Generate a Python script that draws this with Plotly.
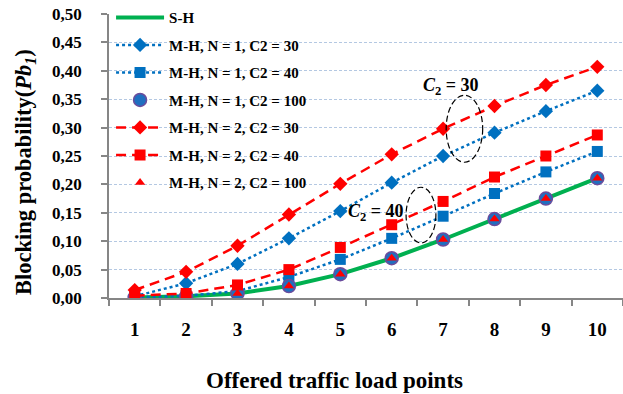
import plotly.graph_objects as go

loads = [1, 2, 3, 4, 5, 6, 7, 8, 9, 10]
tick_labels = ["1", "2", "3", "4", "5", "6", "7", "8", "9", "10"]

sh = [0.001, 0.003, 0.008, 0.021, 0.042, 0.070, 0.103, 0.139, 0.175, 0.211]
n1_c30 = [0.003, 0.026, 0.060, 0.105, 0.153, 0.203, 0.250, 0.291, 0.329, 0.365]
n1_c40 = [0.001, 0.004, 0.012, 0.037, 0.068, 0.105, 0.144, 0.184, 0.222, 0.258]
n1_c100 = [0.001, 0.003, 0.008, 0.021, 0.042, 0.070, 0.103, 0.139, 0.175, 0.211]
n2_c30 = [0.014, 0.046, 0.092, 0.147, 0.201, 0.253, 0.298, 0.338, 0.375, 0.407]
n2_c40 = [0.004, 0.008, 0.023, 0.050, 0.089, 0.129, 0.170, 0.213, 0.250, 0.287]
n2_c100 = [0.001, 0.003, 0.008, 0.021, 0.042, 0.070, 0.103, 0.139, 0.175, 0.211]

names = ["S-H", "M-H, N = 1, C2 = 30", "M-H, N = 1, C2 = 40", "M-H, N = 1, C2 = 100",
         "M-H, N = 2, C2 = 30", "M-H, N = 2, C2 = 40", "M-H, N = 2, C2 = 100"]

GREEN = "#00b050"
BLUE = "#0070c0"
RED = "#ff0000"
SERIF = "Liberation Serif, Times New Roman, serif"

fig = go.Figure()
fig.add_trace(go.Scatter(x=loads, y=sh, name=names[0], mode="lines",
                         line=dict(color=GREEN, width=4), legendgroup="a"))
fig.add_trace(go.Scatter(x=loads, y=n1_c30, name=names[1], mode="lines+markers",
                         line=dict(color=BLUE, width=2.5, dash="dot"),
                         marker=dict(symbol="diamond", size=11, color=BLUE), legendgroup="b"))
fig.add_trace(go.Scatter(x=loads, y=n1_c40, name=names[2], mode="lines+markers",
                         line=dict(color=BLUE, width=2.5, dash="dot"),
                         marker=dict(symbol="square", size=11, color=BLUE), legendgroup="c"))
fig.add_trace(go.Scatter(x=loads, y=n1_c100, name=names[3], mode="markers",
                         marker=dict(symbol="circle", size=13, color="#1f6fc0",
                                     line=dict(color="#6a4c9c", width=1.5)), legendgroup="d"))
fig.add_trace(go.Scatter(x=loads, y=n2_c30, name=names[4], mode="lines+markers",
                         line=dict(color=RED, width=2.5, dash="10px,6px"),
                         marker=dict(symbol="diamond", size=11, color=RED), legendgroup="e"))
fig.add_trace(go.Scatter(x=loads, y=n2_c40, name=names[5], mode="lines+markers",
                         line=dict(color=RED, width=2.5, dash="10px,6px"),
                         marker=dict(symbol="square", size=11, color=RED), legendgroup="f"))
fig.add_trace(go.Scatter(x=loads, y=n2_c100, name=names[6], mode="markers",
                         marker=dict(symbol="triangle-up", size=9, color=RED), legendgroup="g"))

axis_grey = "#868686"
fig.update_layout(
    width=623, height=394,
    margin=dict(l=109, r=0, t=14, b=96, autoexpand=False),
    paper_bgcolor="white", plot_bgcolor="white",
    separators=",.",
    font=dict(family=SERIF, color="black"),
    showlegend=True,
    legend=dict(x=0.004, y=1.045, xanchor="left", yanchor="top",
                bgcolor="rgba(0,0,0,0)", traceorder="grouped", tracegroupgap=5.0,
                itemwidth=48,
                font=dict(family=SERIF, size=15, color="black", weight="bold")),
    xaxis=dict(range=[0.5, 10.5], tickmode="array", tickvals=loads, ticktext=tick_labels,
               ticks="", showgrid=False, zeroline=False,
               showline=True, linecolor=axis_grey, linewidth=1.5,
               tickfont=dict(family=SERIF, size=19, color="black", weight="bold"),
               ticklabelstandoff=13,
               minor=dict(tickmode="array", tickvals=[i + 0.5 for i in range(0, 11)],
                          ticks="outside", ticklen=6, tickcolor=axis_grey, tickwidth=1.5,
                          showgrid=False)),
    yaxis=dict(range=[0, 0.5], tickmode="linear", tick0=0, dtick=0.05, tickformat=".2f",
               ticks="outside", ticklen=6, tickcolor=axis_grey, tickwidth=1.5,
               showline=True, linecolor=axis_grey, linewidth=1.5, zeroline=False,
               showgrid=True, gridcolor="#b4c8e2", gridwidth=1, griddash="3px,2px",
               tickfont=dict(family=SERIF, size=17, color="black", weight="bold"),
               ticklabelstandoff=16),
)
try:
    fig.update_layout(legend_maxheight=400)
except Exception:
    pass

# axis titles
fig.add_annotation(xref="paper", yref="paper", x=(334 - 109) / 514, y=-(380 - 298) / 284,
                   text="Offered traffic load points", showarrow=False,
                   font=dict(family=SERIF, size=23, color="black", weight="bold"),
                   xanchor="center", yanchor="middle")
fig.add_annotation(xref="paper", yref="paper", x=-(109 - 25) / 514, y=(298 - 172) / 284,
                   text="Blocking probability(<i>Pb</i><sub><i>1</i></sub>)", showarrow=False,
                   textangle=-90,
                   font=dict(family=SERIF, size=22.5, color="black", weight="bold"),
                   xanchor="center", yanchor="middle")

# C2 labels and ellipses
fig.add_annotation(x=7.15, y=0.373, xref="x", yref="y",
                   text="<i>C</i><sub>2</sub> = 30", showarrow=False,
                   font=dict(family=SERIF, size=18, color="black", weight="bold"))
fig.add_annotation(x=5.70, y=0.150, xref="x", yref="y",
                   text="<i>C</i><sub>2</sub> = 40", showarrow=False,
                   font=dict(family=SERIF, size=18, color="black", weight="bold"))
fig.add_shape(type="circle", xref="x", yref="y", x0=7.06, x1=7.77, y0=0.239, y1=0.357,
              line=dict(color="black", width=1.2, dash="6px,3px"))
fig.add_shape(type="circle", xref="x", yref="y", x0=6.28, x1=6.86, y0=0.097, y1=0.195,
              line=dict(color="black", width=1.2, dash="6px,3px"))

fig.write_html("out.html", config={"displayModeBar": False},
               post_script="document.body.style.margin='0px';")
